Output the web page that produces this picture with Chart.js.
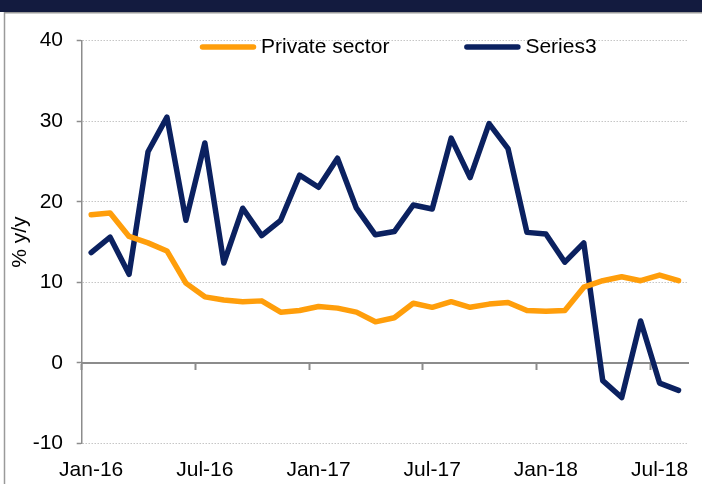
<!DOCTYPE html>
<html>
<head>
<meta charset="utf-8">
<script src="https://cdn.jsdelivr.net/npm/chart.js@4/dist/chart.umd.min.js"></script>
<style>
  html, body { margin: 0; padding: 0; background: #fff; }
  #wrap { position: relative; width: 702px; height: 484px; }
</style>
</head>
<body>
<div id="wrap"><canvas id="chart" width="702" height="484"></canvas></div>
<script>
// monthly, Jan-16 .. Aug-18
const months = [
  "Jan-16", "Feb-16", "Mar-16", "Apr-16", "May-16", "Jun-16", "Jul-16", "Aug-16", "Sep-16", "Oct-16", "Nov-16", "Dec-16",
  "Jan-17", "Feb-17", "Mar-17", "Apr-17", "May-17", "Jun-17", "Jul-17", "Aug-17", "Sep-17", "Oct-17", "Nov-17", "Dec-17",
  "Jan-18", "Feb-18", "Mar-18", "Apr-18", "May-18", "Jun-18", "Jul-18", "Aug-18"
]
const privateSector = [
  18.4, 18.6, 15.7, 14.9, 13.9, 9.9, 8.2, 7.8, 7.6, 7.7, 6.3, 6.5,
  7.0, 6.8, 6.3, 5.1, 5.6, 7.4, 6.9, 7.6, 6.9, 7.3, 7.5, 6.5,
  6.4, 6.5, 9.4, 10.2, 10.7, 10.2, 10.9, 10.2
]
const series3 = [
  13.7, 15.6, 11.0, 26.2, 30.5, 17.7, 27.3, 12.4, 19.2, 15.8, 17.7, 23.3,
  21.8, 25.4, 19.2, 15.9, 16.3, 19.6, 19.1, 27.9, 23.0, 29.7, 26.6, 16.2,
  16.0, 12.5, 14.9, -2.2, -4.3, 5.2, -2.5, -3.4
]
const yMin = -10
const yMax = 40
const yStep = 10
const labelEvery = 6

const font = "'Liberation Sans', Arial, sans-serif"
const orange = "#FF9E0B"
const navy = "#0B2160"
const axisGray = "#8c8c8c"

// header bar + frame lines around the chart
const frame = {
  id: "frame",
  beforeDraw(chart) {
    const c = chart.ctx
    c.save()
    c.fillStyle = "#131B3F"
    c.fillRect(0, 0, chart.width, 12)
    c.strokeStyle = "#9a9a9a"
    c.lineWidth = 1.5
    c.beginPath()
    c.moveTo(4.5, chart.height)
    c.lineTo(4.5, 12.75)
    c.lineTo(chart.width, 12.75)
    c.stroke()
    c.restore()
  }
}

// legend drawn inside the plot, Excel style
const lineLegend = {
  id: "lineLegend",
  afterDraw(chart) {
    const c = chart.ctx
    let x = 200
    const y = 47
    c.save()
    c.font = `21px ${font}`
    c.textBaseline = "middle"
    c.textAlign = "left"
    chart.data.datasets.forEach((ds) => {
      c.strokeStyle = ds.borderColor
      c.lineWidth = 5.5
      c.lineCap = "round"
      c.beginPath()
      c.moveTo(x + 2.5, y)
      c.lineTo(x + 53.5, y)
      c.stroke()
      c.fillStyle = "#000"
      c.fillText(ds.label, x + 61, y)
      x += 61 + c.measureText(ds.label).width + 75
    })
    c.restore()
  }
}

new Chart(document.getElementById("chart"), {
  type: "line",
  data: {
    labels: months,
    datasets: [
      {
        label: "Private sector",
        data: privateSector,
        borderColor: orange,
        backgroundColor: orange,
        borderWidth: 5.5,
        borderJoinStyle: "round",
        borderCapStyle: "round",
        pointRadius: 0,
        tension: 0
      },
      {
        label: "Series3",
        data: series3,
        borderColor: navy,
        backgroundColor: navy,
        borderWidth: 5.5,
        borderJoinStyle: "round",
        borderCapStyle: "round",
        pointRadius: 0,
        tension: 0
      }
    ]
  },
  options: {
    responsive: false,
    animation: false,
    events: [],
    layout: { padding: { top: 40.6, right: 14, bottom: 0, left: 4 } },
    plugins: {
      legend: { display: false },
      tooltip: { enabled: false }
    },
    scales: {
      x: {
        type: "category",
        position: "bottom",
        offset: true,
        grid: { display: false, drawTicks: false },
        border: { display: false },
        ticks: {
          autoSkip: false,
          maxRotation: 0,
          padding: 14,
          color: "#000",
          font: { family: font, size: 21 },
          callback: function (v, i) { return i % labelEvery === 0 ? this.getLabelForValue(v) : "" }
        },
        afterFit: (s) => { s.height = 40.5 }
      },
      x2: {
        type: "category",
        position: { y: 0 },
        offset: true,
        ticks: { display: false },
        grid: {
          offset: true,
          drawOnChartArea: false,
          drawTicks: true,
          tickLength: 6,
          tickWidth: 2,
          tickColor: (ctx) => (ctx.index % labelEvery === 0 ? axisGray : "rgba(0,0,0,0)")
        },
        border: { display: true, color: axisGray, width: 2 }
      },
      y: {
        min: yMin,
        max: yMax,
        ticks: {
          stepSize: yStep,
          padding: 13.7,
          color: "#000",
          font: { family: font, size: 21 }
        },
        grid: {
          color: "#c6c6c6",
          lineWidth: 1,
          tickLength: 5,
          tickColor: axisGray,
          tickWidth: 1.5
        },
        border: { display: true, color: axisGray, width: 1.5, dash: [1.5, 1.5] },
        title: {
          display: true,
          text: "% y/y",
          color: "#000",
          font: { family: font, size: 21 },
          padding: { top: 4, bottom: 4 }
        },
        afterFit: (s) => { s.width = 77.7 }
      }
    }
  },
  plugins: [frame, lineLegend]
})
</script>
</body>
</html>
